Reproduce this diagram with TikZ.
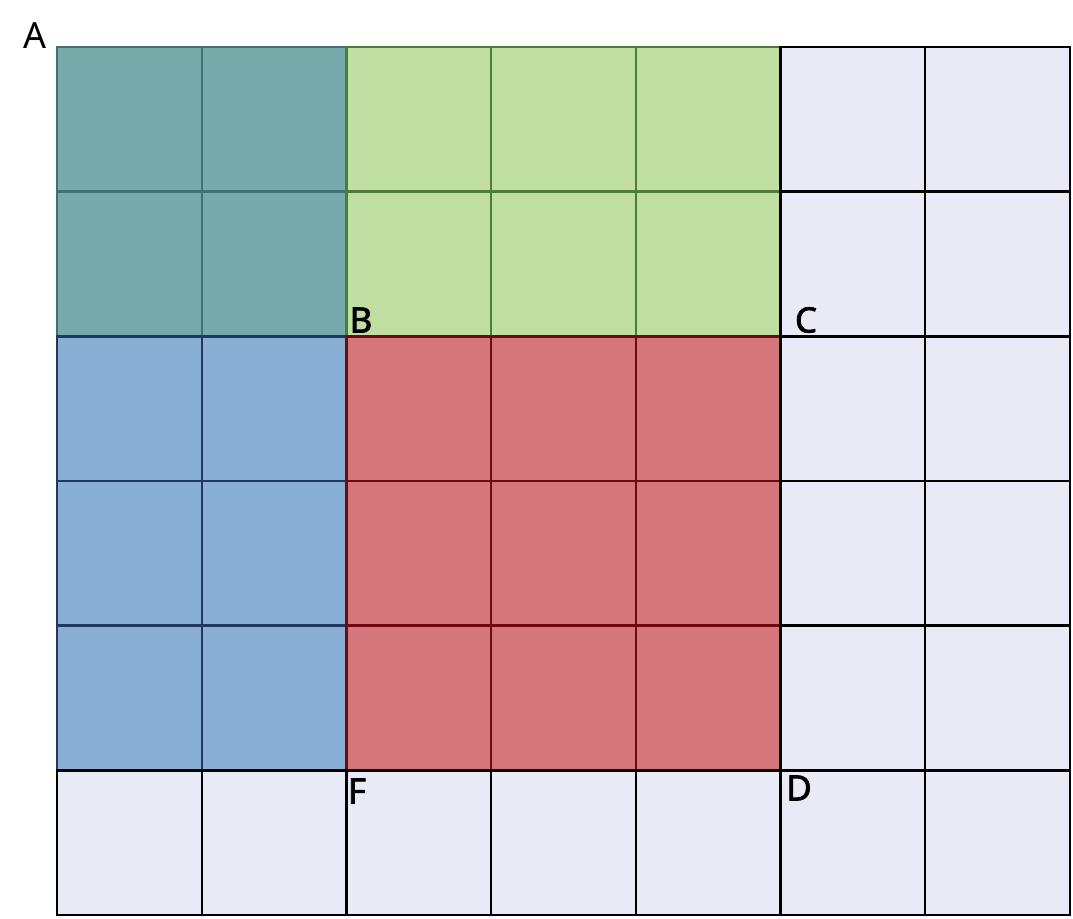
\documentclass[tikz,border=0pt]{standalone}
\usepackage{fontspec}
\setmainfont{Noto Sans}
\newfontfamily\heavyfont[FakeBold=2]{Noto Sans}
\usepackage{xcolor}
\usetikzlibrary{positioning}
\definecolor{tealfill}{HTML}{76AAAB}
\definecolor{tealline}{HTML}{3E7274}
\definecolor{greenfill}{HTML}{C0DDA2}
\definecolor{greenline}{HTML}{4F7B39}
\definecolor{bluefill}{HTML}{8AAFD4}
\definecolor{blueline}{HTML}{20395C}
\definecolor{redfill}{HTML}{D4767A}
\definecolor{redline}{HTML}{6C0A10}
\definecolor{emptyfill}{HTML}{E8EAF5}
\tikzstyle{cell} = [rectangle, minimum width=144.71pt, minimum height=144.67pt, line width=2.4pt, inner sep=0pt, outer sep=0pt]
\tikzstyle{tealcell} = [cell, fill=tealfill, draw=tealline]
\tikzstyle{greencell} = [cell, fill=greenfill, draw=greenline]
\tikzstyle{bluecell} = [cell, fill=bluefill, draw=blueline]
\tikzstyle{redcell} = [cell, fill=redfill, draw=redline]
\tikzstyle{emptycell} = [cell, fill=emptyfill, draw=black]
\tikzstyle{letter} = [font=\fontsize{36}{40}\selectfont, inner sep=0pt]
\tikzstyle{cornerletter} = [letter, font=\heavyfont\fontsize{35}{40}\selectfont]

\begin{document}
\begin{tikzpicture}[x=1pt, y=-1pt]
    \useasboundingbox (0,0) rectangle (1073,918);
    % Coloured blocks
    \foreach \i in {0,1} \foreach \j in {0,1}
        \node[tealcell] (teal-\i-\j) at ({57+144.71*(\i+0.5)},{47+144.67*(\j+0.5)}) {};
    \foreach \i in {2,3,4} \foreach \j in {0,1}
        \node[greencell] (green-\i-\j) at ({57+144.71*(\i+0.5)},{47+144.67*(\j+0.5)}) {};
    \foreach \i in {0,1} \foreach \j in {2,3,4}
        \node[bluecell] (blue-\i-\j) at ({57+144.71*(\i+0.5)},{47+144.67*(\j+0.5)}) {};
    \foreach \i in {2,3,4} \foreach \j in {2,3,4}
        \node[redcell] (red-\i-\j) at ({57+144.71*(\i+0.5)},{47+144.67*(\j+0.5)}) {};

    % Empty cells
    \foreach \i in {5,6} \foreach \j in {0,...,5}
        \node[emptycell] (empty-\i-\j) at ({57+144.71*(\i+0.5)},{47+144.67*(\j+0.5)}) {};
    \foreach \i in {0,...,4}
        \node[emptycell] (empty-\i-5) at ({57+144.71*(\i+0.5)},{47+144.67*5.5}) {};

    % Letters
    \node[letter] (A) at (35,36) {A};
    \node[cornerletter] (B) at (361,320) {B};
    \node[cornerletter] (C) at (806,320) {C};
    \node[cornerletter] (D) at (799,788) {D};
    \node[cornerletter] (F) at (357,791) {F};
\end{tikzpicture}
\end{document}
